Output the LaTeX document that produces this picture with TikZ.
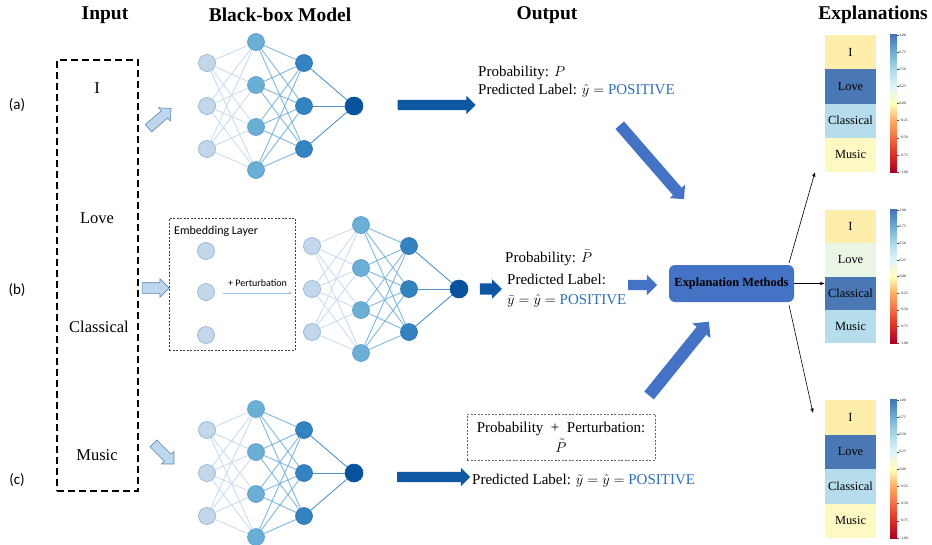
\documentclass[tikz,border=0pt]{standalone}
\usepackage{fontspec}
\setmainfont{Liberation Serif}
\newfontfamily\calib{Carlito}
\usepackage{tikz}
\usetikzlibrary{shapes.arrows,arrows.meta}
\usepackage{color}

\definecolor{inpfill}{HTML}{C2D8EA}
\definecolor{inpdraw}{HTML}{8DAED2}
\definecolor{hafill}{HTML}{6BAED6}
\definecolor{hadraw}{HTML}{5A9AC9}
\definecolor{hbfill}{HTML}{3383C0}
\definecolor{hbdraw}{HTML}{2B72AE}
\definecolor{outfill}{HTML}{08519C}
\definecolor{edgea}{HTML}{C9DDEF}
\definecolor{edgeb}{HTML}{7FB7DD}
\definecolor{edgec}{HTML}{4E94CB}
\definecolor{arrfill}{HTML}{BDD7EE}
\definecolor{arrdraw}{HTML}{5B84B1}
\definecolor{darkarr}{HTML}{0D57A3}
\definecolor{methblue}{HTML}{4472C4}
\definecolor{posblue}{HTML}{2E6FB6}
\definecolor{pertline}{HTML}{9DC3E6}
\definecolor{cyel}{HTML}{FEEEAC}
\definecolor{cpyel}{HTML}{FEF8C2}
\definecolor{cblue}{HTML}{4A78B5}
\definecolor{clblue}{HTML}{B5DDEB}
\definecolor{cpgreen}{HTML}{EAF5E6}
\definecolor{cbA}{HTML}{A50026}
\definecolor{cbB}{HTML}{D73027}
\definecolor{cbC}{HTML}{F46D43}
\definecolor{cbD}{HTML}{FDAE61}
\definecolor{cbE}{HTML}{FFFFBF}
\definecolor{cbF}{HTML}{E0F3F8}
\definecolor{cbG}{HTML}{ABD9E9}
\definecolor{cbH}{HTML}{74ADD1}
\definecolor{cbI}{HTML}{4575B4}

\begin{document}
\begin{tikzpicture}[x=1pt, y=-1pt,
    inl/.style={draw=inpdraw, fill=inpfill, circle, minimum size=17pt, inner sep=0pt, line width=0.6pt},
    hida/.style={inl, draw=hadraw, fill=hafill},
    hidb/.style={inl, draw=hbdraw, fill=hbfill},
    outl/.style={inl, draw=outfill, fill=outfill, minimum size=18pt},
    ea/.style={edgea, line width=0.9pt},
    eb/.style={edgeb, line width=0.9pt},
    ec/.style={edgec, line width=0.9pt},
    blkarr/.style n args={3}{single arrow, minimum height=#1, minimum width=0pt,
        inner xsep=0pt, inner ysep=#2, single arrow head extend=#3, single arrow head indent=0pt},
    title/.style={font=\fontsize{19.5}{22}\selectfont\bfseries},
    word/.style={font=\fontsize{16.5}{19}\selectfont},
    tag/.style={font=\calib\fontsize{15}{18}\selectfont},
    otext/.style={anchor=west, inner sep=0pt, align=left, font=\fontsize{15}{18}\selectfont},
    cell/.style={minimum width=51pt, minimum height=#1, inner sep=0pt, font=\fontsize{12.4}{14}\selectfont},
    thinarr/.style={-{Latex[length=4.5pt,width=3.5pt]}, line width=0.6pt}
    ]
\useasboundingbox (0,0) rectangle (932,544);

    % titles
    \node (tin) at (105,15) [title] {Input};
    \node (tbb) at (280,15) [title] {Black-box Model};
    \node (tout) at (547,15) [title] {Output};
    \node (texp) at (873,15) [title] {Explanations};

    % row tags
    \node (ra) at (17,105) [tag] {(a)};
    \node (rb) at (17,290) [tag] {(b)};
    \node (rc) at (17,480) [tag] {(c)};

    % input sentence
    \node (inbox) at (97.5,275.5) [draw, line width=1.6pt, dash pattern=on 7pt off 4pt,
          minimum width=81pt, minimum height=431pt] {};
    \node (wI) at (97,88) [word] {I};
    \node (wL) at (97,218) [word] {Love};
    \node (wC) at (99,327) [word] {Classical};
    \node (wM) at (97,455) [word] {Music};

    \node (sa) at (158,120) [blkarr={30pt}{4.5pt}{4pt}, rotate=41, fill=arrfill, draw=arrdraw, line width=0.6pt] {};
    \node (sb) at (153,288) [blkarr={27pt}{5pt}{4pt}, fill=arrfill, draw=arrdraw, line width=0.6pt] {};
    \node (sc) at (162,452) [blkarr={29pt}{4.5pt}{4pt}, rotate=-45, fill=arrfill, draw=arrdraw, line width=0.6pt] {};

    % three copies of the net
    \foreach \n/\dx/\dy in {a/0/0, b/105/183, c/0/367}
    { \begin{scope}[shift={(\dx,\dy)}]
        \foreach \j/\y in {1/63,2/106,3/149}
                 { \node (\n i\j) at (207,\y) [inl] {};}
        \foreach \j/\y in {1/42,2/85,3/127,4/170}
                 { \node (\n h\j) at (256,\y) [hida] {};}
        \foreach \j/\y in {1/63,2/106,3/149}
                 { \node (\n g\j) at (304,\y) [hidb] {};}
        \node (\n o) at (354,106) [outl] {};
        \foreach \j in {1,2,3}
                 { \foreach \k in {1,...,4}
                            { \draw[ea] (\n i\j) -- (\n h\k);
                              \draw[eb] (\n h\k) -- (\n g\j);}
                   \draw[ec] (\n g\j) -- (\n o);}
      \end{scope}}

    % embedding layer
    \node (emb) at (232,284) [draw=black!75, dash pattern=on 2pt off 1.5pt, line width=0.6pt,
          minimum width=126pt, minimum height=132pt] {};
    \node (embl) at (174,231) [anchor=west, inner sep=0pt, font=\calib\fontsize{12}{14}\selectfont] {Embedding Layer};
    \foreach \j/\y in {1/251,2/292,3/335}
             { \node (ee\j) at (206,\y) [inl] {};}
    \coordinate (pt0) at (223,293);
    \coordinate (pt1) at (292,293);
    \draw[pertline, line width=0.8pt, -{Latex[length=3pt,width=3pt]}] (pt0) -- (pt1)
          node[midway, above=3pt, black, font=\calib\fontsize{10}{12}\selectfont] {+ Perturbation};

    % outputs
    \node (ka) at (434,105) [blkarr={78pt}{5pt}{4pt}, fill=darkarr] {};
    \node (kb) at (488,289) [blkarr={22pt}{5.5pt}{4pt}, fill=darkarr] {};
    \node (kc) at (431,477) [blkarr={73pt}{5pt}{4pt}, fill=darkarr] {};

    \node (oa) at (478,82) [otext] {Probability: $P$\\ Predicted Label: $\hat{y}=$ \textcolor{posblue}{POSITIVE}};
    \node (ob1) at (505,258) [otext] {Probability: $\bar{P}$};
    \node (ob2) at (507,291) [otext, font=\fontsize{15}{20}\selectfont]
          {Predicted Label:\\ $\bar{y}=\hat{y}=$ \textcolor{posblue}{POSITIVE}};
    \node (oc1) at (561,437) [draw=black!60, dash pattern=on 2pt off 1.5pt, line width=0.6pt, align=center,
          minimum width=188pt, minimum height=46pt, inner sep=2pt, font=\fontsize{15}{20}\selectfont]
          {Probability\enspace+\enspace Perturbation:\\ $\tilde{P}$};
    \node (oc2) at (472,481) [otext] {Predicted Label: $\tilde{y}=\hat{y}=$ \textcolor{posblue}{POSITIVE}};

    % explanation methods
    \node (meth) at (731.5,283.5) [fill=methblue, rounded corners=6pt, minimum width=125pt,
          minimum height=37pt, font=\fontsize{12.4}{14}\selectfont\bfseries] {Explanation Methods};
    \node (mb) at (640,285) [blkarr={29pt}{5pt}{5pt}, fill=methblue] {};
    \node (ma) at (650,160) [blkarr={98pt}{5.5pt}{4.5pt}, rotate=-49, fill=methblue] {};
    \node (mc) at (677,361) [blkarr={95pt}{6pt}{5.5pt}, rotate=51, fill=methblue] {};

    % heat maps
    \foreach \p/\tp/\hh/\ca/\cb/\cc/\cd in {1/35/34.25/cyel/cblue/clblue/cpyel,
                                           2/210/33.25/cyel/cpgreen/cblue/clblue,
                                           3/400/34.5/cyel/cblue/clblue/cpyel}
    { \node (p\p c1) at (850.5,{\tp+0.5*\hh}) [cell=\hh, fill=\ca] {I};
      \node (p\p c2) at (850.5,{\tp+1.5*\hh}) [cell=\hh, fill=\cb] {Love};
      \node (p\p c3) at (850.5,{\tp+2.5*\hh}) [cell=\hh, fill=\cc] {Classical};
      \node (p\p c4) at (850.5,{\tp+3.5*\hh}) [cell=\hh, fill=\cd] {Music};
      \foreach \s/\lo/\mi/\hi in {0/cbA/cbB/cbC,1/cbC/cbD/cbE,2/cbE/cbF/cbG,3/cbG/cbH/cbI}
               { \shade[bottom color=\lo, top color=\hi, middle color=\mi]
                       (890,{\tp+(4-\s)*\hh+0.2}) rectangle (897,{\tp+(3-\s)*\hh-0.2});}
      \foreach \v [count=\i from 0] in {1.00,0.75,0.50,0.25,0.00,−0.25,−0.50,−0.75,−1.00}
               { \draw[black!70, line width=0.3pt] (897,{\tp+\i*\hh/2}) -- (898.5,{\tp+\i*\hh/2});
                 \node at (899,{\tp+\i*\hh/2}) [anchor=west, inner sep=0.3pt,
                       font=\fontsize{3.6}{4}\selectfont] {\v};}}

    \coordinate (t1) at (815,172);
    \coordinate (t3) at (813,413);
    \draw[thinarr] (789,263) -- (t1);
    \draw[thinarr] (meth.east) -- (p2c3.west |- meth.east);
    \draw[thinarr] (789,305) -- (t3);

\end{tikzpicture}
\end{document}
